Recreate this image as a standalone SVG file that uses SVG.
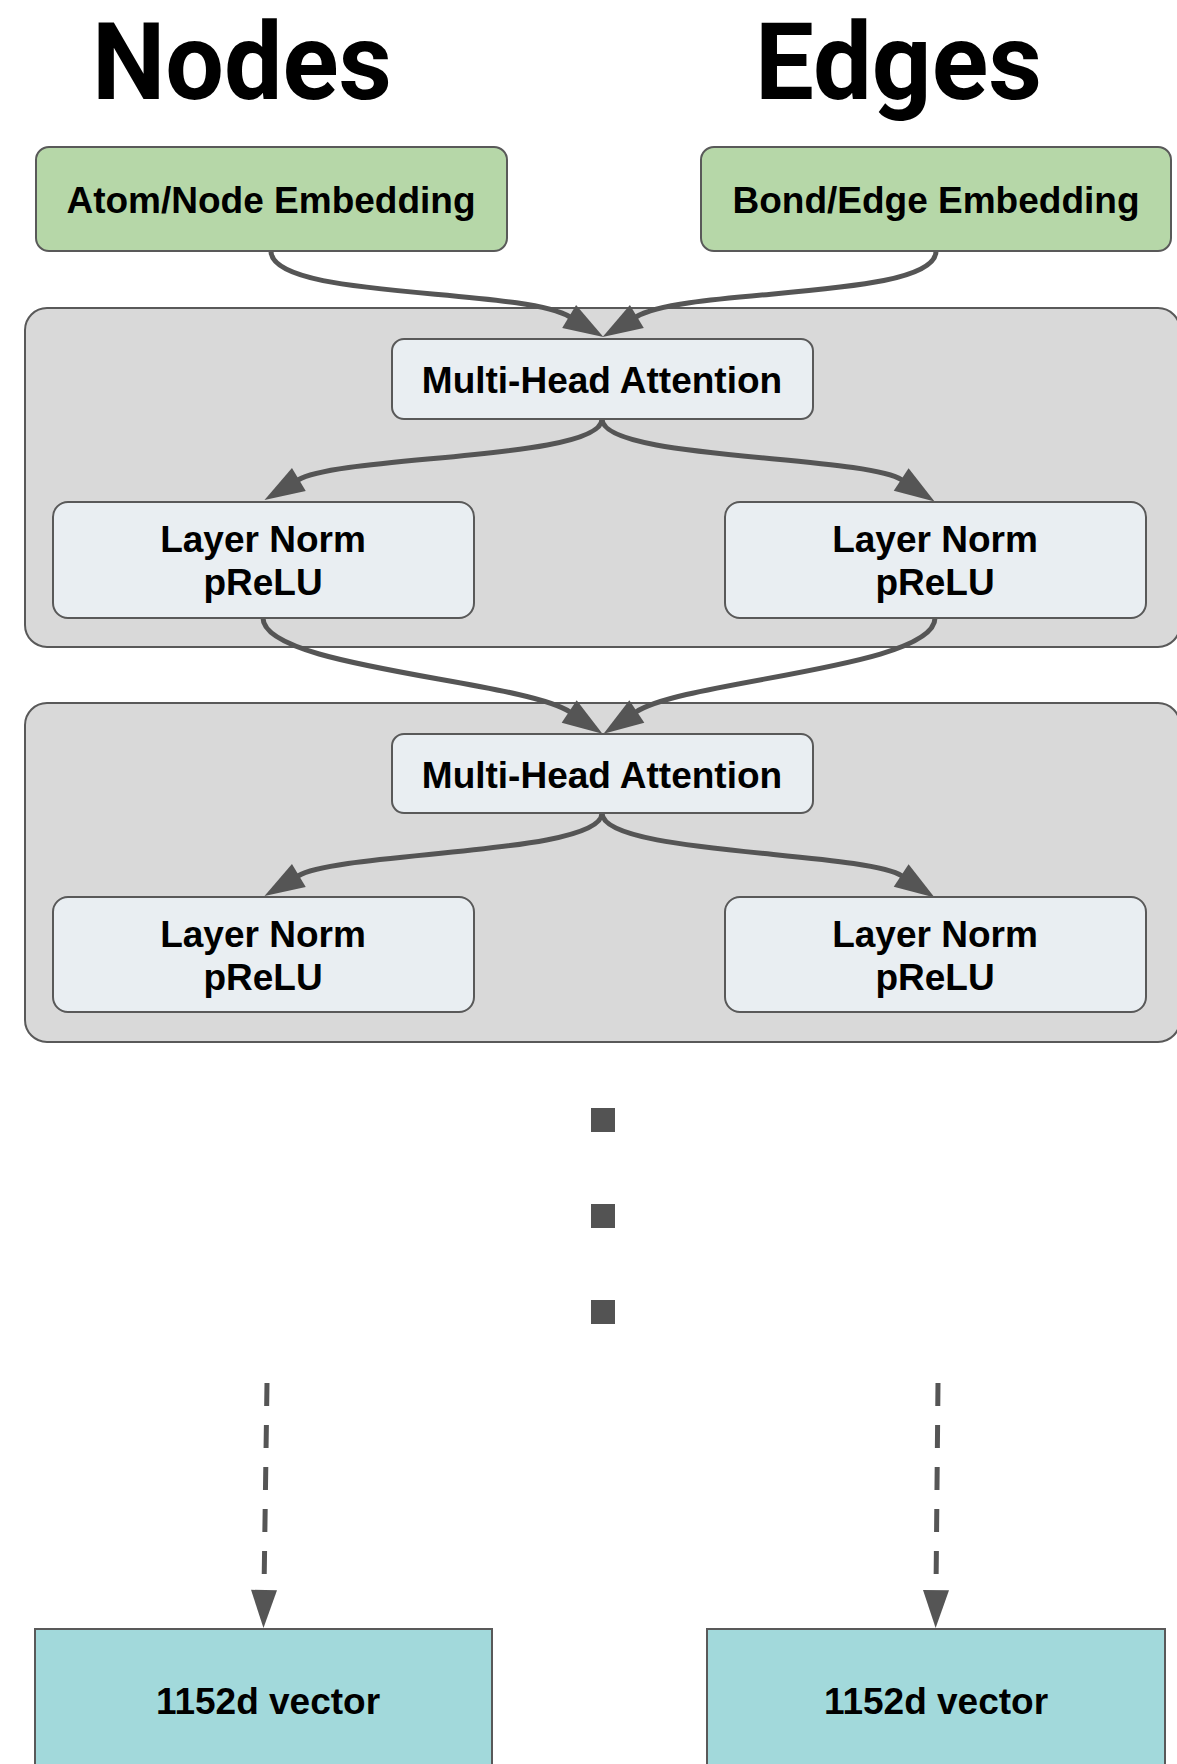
<svg xmlns="http://www.w3.org/2000/svg" width="1177" height="1764" viewBox="0 0 1177 1764">
  <style>
    .title { font-family: Roboto, "Liberation Sans", Arial, sans-serif; font-weight: 700; font-size: 107px; fill: #000; }
    .lbl { font-family: "Liberation Sans", Arial, sans-serif; font-weight: 700; font-size: 37px; fill: #000; text-anchor: middle; }
    .embed { fill: #b6d7a8; stroke: #595959; stroke-width: 2; }
    .block { fill: #d9d9d9; stroke: #595959; stroke-width: 2; }
    .op { fill: #e9eef2; stroke: #595959; stroke-width: 2; }
    .out { fill: #a2d9db; stroke: #595959; stroke-width: 2; }
    .conn { fill: none; stroke: #555555; stroke-width: 5; }
    .dash { fill: none; stroke: #555555; stroke-width: 5; stroke-dasharray: 23 19; }
    .dot { fill: #535353; }
  </style>
  <defs>
    <marker id="ah" markerUnits="userSpaceOnUse" viewBox="0 -14 42 28" markerWidth="42" markerHeight="28" refX="1" refY="0" orient="auto" overflow="visible">
      <path d="M0,-13.5 L40,0 L0,13.5 z" fill="#555555"/>
    </marker>
    <marker id="ah-long" markerUnits="userSpaceOnUse" viewBox="0 -14 40 28" markerWidth="40" markerHeight="28" refX="1" refY="0" orient="auto" overflow="visible">
      <path d="M0,-13 L38,0 L0,13 z" fill="#555555"/>
    </marker>
  </defs>

  <rect width="1177" height="1764" fill="#ffffff"/>

  <!-- column headings -->
  <text class="title" x="92" y="99" textLength="300" lengthAdjust="spacingAndGlyphs">Nodes</text>
  <text class="title" x="755" y="99" textLength="287" lengthAdjust="spacingAndGlyphs">Edges</text>

  <!-- transformer blocks -->
  <g id="block1"><rect class="block" x="25" y="308" width="1155" height="339" rx="22"/></g>
  <g id="block2"><rect class="block" x="25" y="703" width="1155" height="339" rx="22"/></g>

  <g id="connectors">
    <!-- embeddings into first attention -->
    <path class="conn" d="M271,251 C271,300 520,287 570,317" marker-end="url(#ah)"/>
    <path class="conn" d="M936,251 C936,300 686,287 636,317" marker-end="url(#ah)"/>
    <!-- attention 1 to norms -->
    <path class="conn" d="M602,419 C602,460 340,455 298,480" marker-end="url(#ah)"/>
    <path class="conn" d="M602,419 C602,460 864,455 902,480" marker-end="url(#ah)"/>
    <!-- norms into attention 2 -->
    <path class="conn" d="M263,618 C263,668 522,680 570,712" marker-end="url(#ah)"/>
    <path class="conn" d="M935,618 C935,668 684,680 636,712" marker-end="url(#ah)"/>
    <!-- attention 2 to norms -->
    <path class="conn" d="M602,813 C602,855 340,851 298,876" marker-end="url(#ah)"/>
    <path class="conn" d="M602,813 C602,855 864,851 902,876" marker-end="url(#ah)"/>
    <!-- final projections -->
    <path class="dash" d="M267,1383 L264,1591" marker-end="url(#ah-long)"/>
    <path class="dash" d="M938,1383 L936,1591" marker-end="url(#ah-long)"/>
  </g>

  <g id="atom-embedding">
    <rect class="embed" x="36" y="147" width="471" height="104" rx="13"/>
    <text class="lbl" x="271" y="213">Atom/Node Embedding</text>
  </g>
  <g id="bond-embedding">
    <rect class="embed" x="701" y="147" width="470" height="104" rx="13"/>
    <text class="lbl" x="936" y="213">Bond/Edge Embedding</text>
  </g>

  <g id="mha1">
    <rect class="op" x="392" y="339" width="421" height="80" rx="12"/>
    <text class="lbl" x="602" y="393">Multi-Head Attention</text>
  </g>
  <g id="norm1-nodes">
    <rect class="op" x="53" y="502" width="421" height="116" rx="15"/>
    <text class="lbl" x="263" y="552">Layer Norm</text>
    <text class="lbl" x="263" y="595">pReLU</text>
  </g>
  <g id="norm1-edges">
    <rect class="op" x="725" y="502" width="421" height="116" rx="15"/>
    <text class="lbl" x="935" y="552">Layer Norm</text>
    <text class="lbl" x="935" y="595">pReLU</text>
  </g>

  <g id="mha2">
    <rect class="op" x="392" y="734" width="421" height="79" rx="12"/>
    <text class="lbl" x="602" y="788">Multi-Head Attention</text>
  </g>
  <g id="norm2-nodes">
    <rect class="op" x="53" y="897" width="421" height="115" rx="15"/>
    <text class="lbl" x="263" y="947">Layer Norm</text>
    <text class="lbl" x="263" y="990">pReLU</text>
  </g>
  <g id="norm2-edges">
    <rect class="op" x="725" y="897" width="421" height="115" rx="15"/>
    <text class="lbl" x="935" y="947">Layer Norm</text>
    <text class="lbl" x="935" y="990">pReLU</text>
  </g>

  <!-- repeated layers elided -->
  <g id="ellipsis">
    <rect class="dot" x="591" y="1108" width="24" height="24"/>
    <rect class="dot" x="591" y="1204" width="24" height="24"/>
    <rect class="dot" x="591" y="1300" width="24" height="24"/>
  </g>

  <g id="node-vector">
    <rect class="out" x="35" y="1629" width="457" height="150"/>
    <text class="lbl" x="268" y="1714">1152d vector</text>
  </g>
  <g id="edge-vector">
    <rect class="out" x="707" y="1629" width="458" height="150"/>
    <text class="lbl" x="936" y="1714">1152d vector</text>
  </g>
</svg>
